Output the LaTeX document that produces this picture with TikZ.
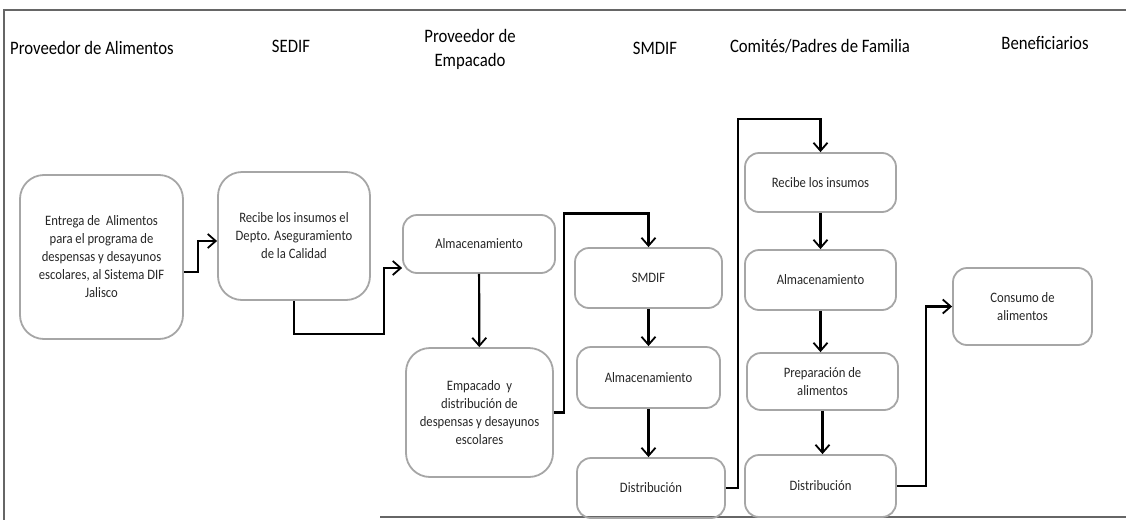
\documentclass[tikz,border=0pt]{standalone}
\usepackage{fontspec}
\setmainfont{Carlito}[FakeStretch=0.88]
\usetikzlibrary{arrows.meta}

\tikzstyle{bS}=[draw=black!35,line width=0.9pt,rounded corners=7pt,inner sep=2pt,font=\fontsize{7.2}{9}\selectfont,align=center,text=black!85]
\tikzstyle{bB}=[bS,rounded corners=12pt]
\tikzstyle{hS}=[inner sep=0pt,font=\fontsize{9.5}{12}\selectfont,align=center]
\tikzstyle{aS}=[line width=1.1pt,-{Straight Barb[length=4pt,width=7pt,line width=0.9pt]}]
\tikzstyle{fS}=[black!60,line width=0.8pt]

\begin{document}
\begin{tikzpicture}[x=0.5pt,y=-0.5pt]
                \useasboundingbox (0,0) rectangle (1126,520);
                % frame of the page
                \draw[fS] (4,520) -- (4,10) -- (1126,10);
                \draw[fS] (380,517) -- (1126,517);
                % headers
                \draw (92,48) node[hS] (h1) {Proveedor de Alimentos};
                \draw (291,46) node[hS] (h2) {SEDIF};
                \draw (470,49) node[hS] (h3) {Proveedor de\\Empacado};
                \draw (655,48) node[hS] (h4) {SMDIF};
                \draw (820,46) node[hS] (h5) {Comités/Padres de Familia};
                \draw (1045,43) node[hS] (h6) {Beneficiarios};
                % boxes
                \draw (101.5,257) node[bB,minimum width=81.5pt,minimum height=82pt] (n1) {Entrega de \ Alimentos\\para el programa de\\despensas y desayunos\\escolares, al Sistema DIF\\Jalisco};
                \draw (294,236) node[bB,minimum width=76pt,minimum height=64pt] (n2) {Recibe los insumos el\\Depto. Aseguramiento\\de la Calidad};
                \draw (479,244) node[bS,minimum width=76pt,minimum height=29pt] (n3) {Almacenamiento};
                \draw (479.5,412.5) node[bB,minimum width=73.5pt,minimum height=64.5pt] (n4) {Empacado \ y\\distribución de\\despensas y desayunos\\escolares};
                \draw (648.5,278) node[bS,minimum width=73.5pt,minimum height=30pt] (n5) {SMDIF};
                \draw (648.5,377.5) node[bS,minimum width=71.5pt,minimum height=30.5pt] (n6) {Almacenamiento};
                \draw (651,488) node[bS,minimum width=74pt,minimum height=30pt] (n7) {Distribución};
                \draw (820.5,182.5) node[bS,minimum width=75.5pt,minimum height=29.5pt] (n8) {Recibe los insumos};
                \draw (820.5,280) node[bS,minimum width=75.5pt,minimum height=30pt] (n9) {Almacenamiento};
                \draw (822.5,381.5) node[bS,minimum width=75.5pt,minimum height=28.5pt] (n10) {Preparación de\\alimentos};
                \draw (820.5,486) node[bS,minimum width=75.5pt,minimum height=31pt] (n11) {Distribución};
                \draw (1022.5,306.5) node[bS,minimum width=69.5pt,minimum height=38.5pt] (n12) {Consumo de\\alimentos};
                % connectors
                \draw[aS] ([yshift=-7.5pt]n1.east) -- ++(14,0) |- ([yshift=-2.5pt]n2.west);
                \draw[aS] (n2.south) -- ++(0,33) -- ++(90,0) |- ([yshift=-12pt]n3.west);
                \draw[aS] (n3) -- (n4);
                \draw[aS] (n4.east) -- ++(10,0) -- ++(0,-199) -| (n5.north);
                \draw[aS] (n5) -- (n6);
                \draw[aS] (n6.south) -- (n6.south |- n7.north);
                \draw[aS] (n7.east) -- ++(12,0) -- ++(0,-369) -| (n8.north);
                \draw[aS] (n8) -- (n9);
                \draw[aS] (n9.south) -- (n9.south |- n10.north);
                \draw[aS] (n10.south) -- (n10.south |- n11.north);
                \draw[aS] (n11.east) -- ++(29,0) |- (n12.west);
        \end{tikzpicture}
\end{document}
